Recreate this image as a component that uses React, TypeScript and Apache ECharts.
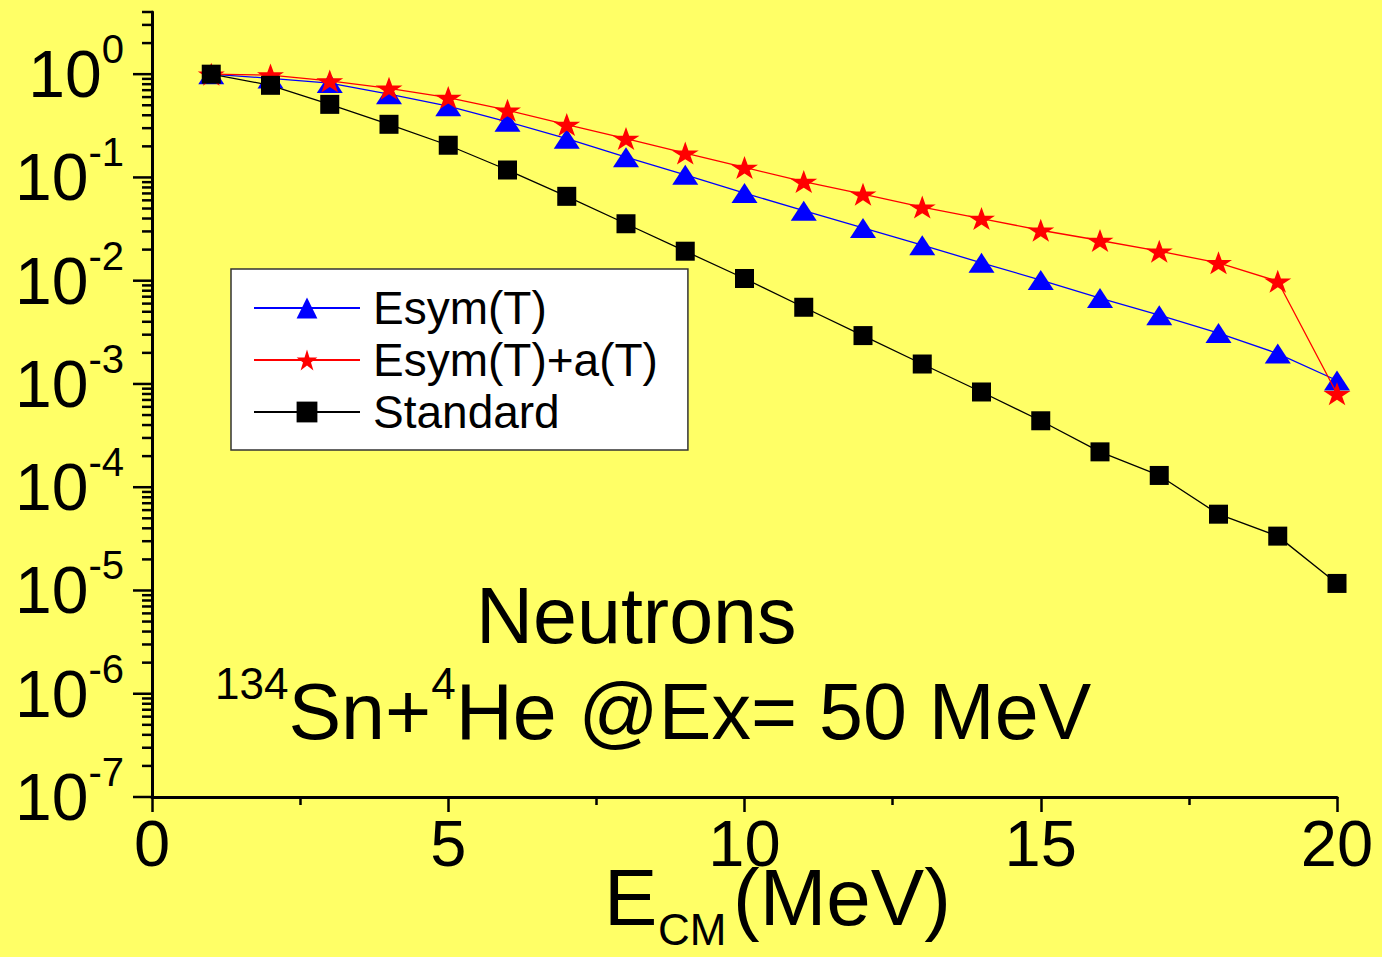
import React, { useEffect, useRef } from "react";
import * as echarts from "echarts";

const energies = [1, 2, 3, 4, 5, 6, 7, 8, 9, 10, 11, 12, 13, 14, 15, 16, 17, 18, 19, 20];
const esymT = [1.0, 0.91, 0.82, 0.64, 0.49, 0.346, 0.237, 0.157, 0.106, 0.0706, 0.0476, 0.0324, 0.0221, 0.0149, 0.01015, 0.00679, 0.00463, 0.00311, 0.00197, 0.00108];
const esymTaT = [1.0, 0.98, 0.86, 0.73, 0.594, 0.448, 0.325, 0.238, 0.172, 0.125, 0.0912, 0.0689, 0.0516, 0.04, 0.0308, 0.0245, 0.0193, 0.0149, 0.00987, 0.000805];
const standard = [1.0, 0.78, 0.51, 0.327, 0.205, 0.118, 0.0656, 0.0356, 0.0193, 0.0105, 0.00553, 0.00294, 0.00156, 0.000836, 0.00044, 0.00022, 0.00013, 5.48e-5, 3.36e-5, 1.17e-5];
const seriesNames = ["Esym(T)", "Esym(T)+a(T)", "Standard"];
const yMin = 1e-7;
const yMax = 4;
const decades = [-7, -6, -5, -4, -3, -2, -1, 0];
const minorMultipliers = [2, 3, 4, 5, 6, 7, 8, 9];

const FONT = '"Liberation Sans", Arial, Helvetica, sans-serif';
const STAR = "path://M0,-100 L22.45,-30.9 L95.1,-30.9 L36.33,11.8 L58.78,80.9 L0,38.2 L-58.78,80.9 L-36.33,11.8 L-95.1,-30.9 L-22.45,-30.9 Z";

export default function App() {
  const ref = useRef<HTMLDivElement>(null);
  useEffect(() => {
    if (!ref.current) return;
    const chart = echarts.init(ref.current, null, { renderer: "svg" });
    const pair = (arr: number[]) => energies.map((e, i) => [e, arr[i]]);

    // y tick marks (majors + log minors), positioned through the axis scale
    const yTicks: number[][] = [];
    decades.forEach((d) => {
      yTicks.push([0, Math.pow(10, d), 1]);
      minorMultipliers.forEach((m) => {
        const v = m * Math.pow(10, d);
        if (v <= yMax + 1e-9) yTicks.push([0, v, 0]);
      });
    });

    const option: any = {
      animation: false,
      backgroundColor: "#FFFF66",
      grid: { left: 152, right: 45, top: 12, bottom: 160, outerBoundsMode: "none", containLabel: false },
      legend: {
        data: seriesNames,
        orient: "vertical",
        left: 231,
        top: 269,
        padding: [13, 30, 12, 22],
        itemWidth: 106,
        itemHeight: 26,
        itemGap: 0,
        backgroundColor: "#ffffff",
        borderColor: "#333333",
        borderWidth: 1.5,
        textStyle: { fontSize: 46, lineHeight: 52, color: "#000", fontFamily: FONT, padding: [0, 0, 0, 8] },
      },
      xAxis: {
        type: "value",
        min: 0,
        max: 20,
        interval: 5,
        axisLine: { show: true, onZero: false, lineStyle: { color: "#000", width: 3 } },
        axisTick: { show: true, length: 15, lineStyle: { color: "#000", width: 2.5 } },
        minorTick: { show: true, splitNumber: 2, length: 8, lineStyle: { color: "#000", width: 2.5 } },
        splitLine: { show: false },
        axisLabel: { fontSize: 65, color: "#000", fontFamily: FONT, margin: 14 },
      },
      yAxis: {
        type: "log",
        logBase: 10,
        min: yMin,
        max: yMax,
        axisLine: { show: true, lineStyle: { color: "#000", width: 3 } },
        axisTick: { show: false },
        splitLine: { show: false },
        axisLabel: {
          margin: 28,
          color: "#000",
          formatter: (val: number) => {
            const l = Math.log10(val);
            const e = Math.round(l);
            if (Math.abs(l - e) > 1e-6) return "";
            return `{b|10}{s|${e}}`;
          },
          rich: {
            b: { fontSize: 66, lineHeight: 90, fontFamily: FONT, color: "#000" },
            s: { fontSize: 40, verticalAlign: "top", fontFamily: FONT, color: "#000" },
          },
        },
      },
      graphic: [
        {
          type: "text",
          left: 476,
          top: 576,
          style: { text: "Neutrons", fontSize: 79, fontFamily: FONT, fill: "#000" },
        },
        {
          type: "text",
          left: 215,
          top: 661,
          style: {
            text: "{s|134}{m|Sn+}{s|4}{m|He @Ex= 50 MeV}",
            rich: {
              m: { fontSize: 79, lineHeight: 100, fontFamily: FONT, fill: "#000" },
              s: { fontSize: 44, verticalAlign: "top", fontFamily: FONT, fill: "#000" },
            },
          },
        },
        {
          type: "text",
          left: 604,
          top: 857,
          style: { text: "E", fontSize: 80, fontFamily: FONT, fill: "#000" },
        },
        {
          type: "text",
          left: 658,
          top: 907,
          style: { text: "CM", fontSize: 44, fontFamily: FONT, fill: "#000" },
        },
        {
          type: "text",
          left: 733,
          top: 857,
          style: { text: "(MeV)", fontSize: 80, fontFamily: FONT, fill: "#000" },
        },
      ],
      series: [
        {
          name: seriesNames[0],
          type: "line",
          data: pair(esymT),
          symbol: "triangle",
          symbolSize: [26, 20],
          itemStyle: { color: "#0000FF" },
          lineStyle: { color: "#0000FF", width: 1.3 },
          z: 3,
        },
        {
          name: seriesNames[1],
          type: "line",
          data: pair(esymTaT),
          symbol: STAR,
          symbolSize: [27, 23],
          itemStyle: { color: "#FF0000" },
          lineStyle: { color: "#FF0000", width: 1.3 },
          z: 4,
        },
        {
          name: seriesNames[2],
          type: "line",
          data: pair(standard),
          symbol: "rect",
          symbolSize: 19,
          itemStyle: { color: "#000000" },
          lineStyle: { color: "#000000", width: 1.3 },
          z: 5,
        },
        {
          name: "yTicks",
          type: "custom",
          clip: false,
          silent: true,
          encode: { x: 0, y: 1 },
          data: yTicks,
          renderItem: (params: any, api: any) => {
            const p = api.coord([0, api.value(1)]);
            const len = api.value(2) ? 19 : 10;
            return {
              type: "line",
              shape: { x1: p[0], y1: p[1], x2: p[0] - len, y2: p[1] },
              style: { stroke: "#000", lineWidth: 2.5 },
            };
          },
          z: 6,
        },
      ],
    };
    chart.setOption(option);
    return () => chart.dispose();
  }, []);
  return <div ref={ref} style={{ position: "fixed", left: 0, top: 0, width: 1382, height: 957 }} />;
}
